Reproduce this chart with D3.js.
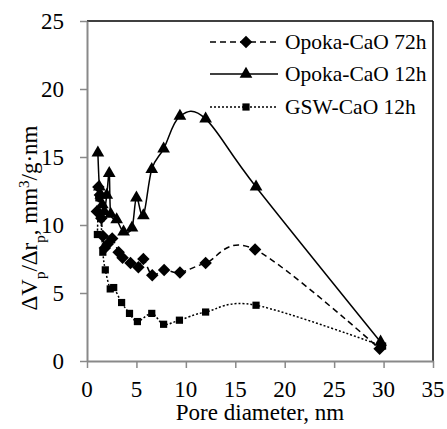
<!DOCTYPE html>
<html>
<head>
<meta charset="utf-8">
<script src="https://cdn.jsdelivr.net/npm/d3@7"></script>
<style>
@font-face { font-family: "ChartSerif"; src: local("Liberation Serif"), local("LiberationSerif"), local("LiberationSerif-Regular"), local("Times New Roman"); }
</style>
</head>
<body style="margin:0">
<svg id="s" width="447" height="429"></svg>
<script>
// ---- data ----
const xTicks = [0, 5, 10, 15, 20, 25, 30, 35];
const yTicks = [0, 5, 10, 15, 20, 25];

const opoka72X = [1.0, 1.15, 1.3, 1.45, 1.6, 1.8, 2.1, 2.55, 3.2, 3.6, 4.4, 5.2, 5.7, 6.6, 7.8, 9.4, 12.0, 17.0, 29.6];
const opoka72Y = [11.0, 12.8, 12.2, 10.5, 9.2, 8.3, 8.6, 9.0, 8.0, 7.6, 7.2, 6.9, 7.5, 6.3, 6.7, 6.5, 7.2, 8.2, 0.9];

const opoka12X = [1.1, 1.25, 1.4, 1.55, 1.75, 2.0, 2.25, 2.4, 3.0, 3.7, 4.55, 5.0, 5.7, 6.55, 7.75, 9.4, 12.0, 17.1, 29.7];
const opoka12Y = [15.3, 12.8, 12.2, 11.5, 11.0, 12.2, 13.8, 10.8, 10.4, 9.5, 9.8, 12.0, 10.7, 14.1, 15.6, 18.0, 17.8, 12.8, 1.4];

const gswX = [1.05, 1.2, 1.4, 1.6, 1.85, 2.35, 2.7, 3.5, 4.3, 5.1, 6.55, 7.75, 9.35, 12.0, 17.1, 29.9];
const gswY = [9.3, 12.0, 10.5, 8.0, 6.7, 5.3, 5.4, 4.3, 3.5, 2.9, 3.5, 2.7, 3.0, 3.6, 4.1, 1.1];

const seriesNames = ["Opoka-CaO 72h", "Opoka-CaO 12h", "GSW-CaO 12h"];

// ---- layout ----
const W = 447, H = 429;
const m = { left: 87, right: 14, top: 21, bottom: 68 };
const svg = d3.select("#s");
const FONT = '"Liberation Serif", "ChartSerif", "Times New Roman", "DejaVu Serif", serif';

const x = d3.scaleLinear().domain([0, 35]).range([m.left, W - m.right]);
const y = d3.scaleLinear().domain([0, 25]).range([H - m.bottom, m.top]);

const fontSize = 23;
const txt = sel => sel.style("font-family", FONT);

// border top/right
svg.append("line").attr("x1", m.left).attr("x2", W - m.right).attr("y1", m.top).attr("y2", m.top)
  .attr("stroke", "#000").attr("stroke-width", 1.5);
svg.append("line").attr("x1", W - m.right).attr("x2", W - m.right).attr("y1", m.top).attr("y2", H - m.bottom)
  .attr("stroke", "#000").attr("stroke-width", 1.5);

// axes (labels drawn manually as plain text)
const gx = svg.append("g").attr("transform", `translate(0,${H - m.bottom})`)
  .call(d3.axisBottom(x).tickValues(xTicks).tickSize(7).tickFormat("").tickSizeOuter(0));
const gy = svg.append("g").attr("transform", `translate(${m.left},0)`)
  .call(d3.axisLeft(y).tickValues(yTicks).tickSize(7).tickFormat("").tickSizeOuter(0));
[gx, gy].forEach(g => {
  g.select(".domain").attr("stroke", "#898989").attr("stroke-width", 2);
  g.selectAll(".tick line").attr("stroke", "#898989").attr("stroke-width", 1.5);
});
xTicks.forEach(t => {
  txt(svg.append("text")).attr("x", x(t)).attr("y", H - m.bottom + 36).attr("text-anchor", "middle")
    .style("font-size", fontSize + "px").text(t);
});
yTicks.forEach(t => {
  txt(svg.append("text")).attr("x", m.left - 23).attr("y", y(t) + 8).attr("text-anchor", "end")
    .style("font-size", fontSize + "px").text(t);
});

// axis titles
txt(svg.append("text")).attr("x", x(17.5)).attr("y", 420).attr("text-anchor", "middle")
  .style("font-size", fontSize + "px").text("Pore diameter, nm");

const yt = txt(svg.append("text")).attr("transform", `translate(37,218) rotate(-90)`)
  .attr("text-anchor", "middle").style("font-size", fontSize + "px");
yt.append("tspan").text("ΔV");
yt.append("tspan").attr("baseline-shift", "sub").style("font-size", "15px").text("p");
yt.append("tspan").text("/Δr");
yt.append("tspan").attr("baseline-shift", "sub").style("font-size", "15px").text("p");
yt.append("tspan").text(", mm");
yt.append("tspan").attr("baseline-shift", "super").style("font-size", "15px").text("3");
yt.append("tspan").text("/g·nm");

// series
const mk = (xs, ys) => xs.map((v, i) => [v, ys[i]]);
const data = [
  { name: seriesNames[0], pts: mk(opoka72X, opoka72Y), dash: "6,4", shape: d3.symbolSquare, size: 78, rot: 45 },
  { name: seriesNames[1], pts: mk(opoka12X, opoka12Y), dash: null, shape: d3.symbolTriangle, size: 70, rot: 0 },
  { name: seriesNames[2], pts: mk(gswX, gswY), dash: "2,2", shape: d3.symbolSquare, size: 52, rot: 0 }
];

const line = d3.line().x(d => x(d[0])).y(d => y(d[1])).curve(d3.curveCatmullRom.alpha(0));

data.forEach(s => {
  svg.append("path").attr("d", line(s.pts)).attr("fill", "none").attr("stroke", "#000")
    .attr("stroke-width", 1.5).attr("stroke-dasharray", s.dash);
});
data.forEach(s => {
  svg.append("g").selectAll("path").data(s.pts).join("path")
    .attr("transform", d => `translate(${x(d[0])},${y(d[1])}) rotate(${s.rot})`)
    .attr("d", d3.symbol().type(s.shape).size(s.size))
    .attr("fill", "#000");
});

// legend
const legY = [42, 74, 107];
data.forEach((s, i) => {
  const ly = legY[i];
  svg.append("line").attr("x1", 210).attr("x2", 278).attr("y1", ly).attr("y2", ly)
    .attr("stroke", "#000").attr("stroke-width", 1.5).attr("stroke-dasharray", s.dash);
  svg.append("path").attr("transform", `translate(246,${ly}) rotate(${s.rot})`)
    .attr("d", d3.symbol().type(s.shape).size(s.size)).attr("fill", "#000");
  txt(svg.append("text")).attr("x", 285).attr("y", ly + 7)
    .style("font-size", "21.5px").text(s.name);
});
</script>
</body>
</html>
